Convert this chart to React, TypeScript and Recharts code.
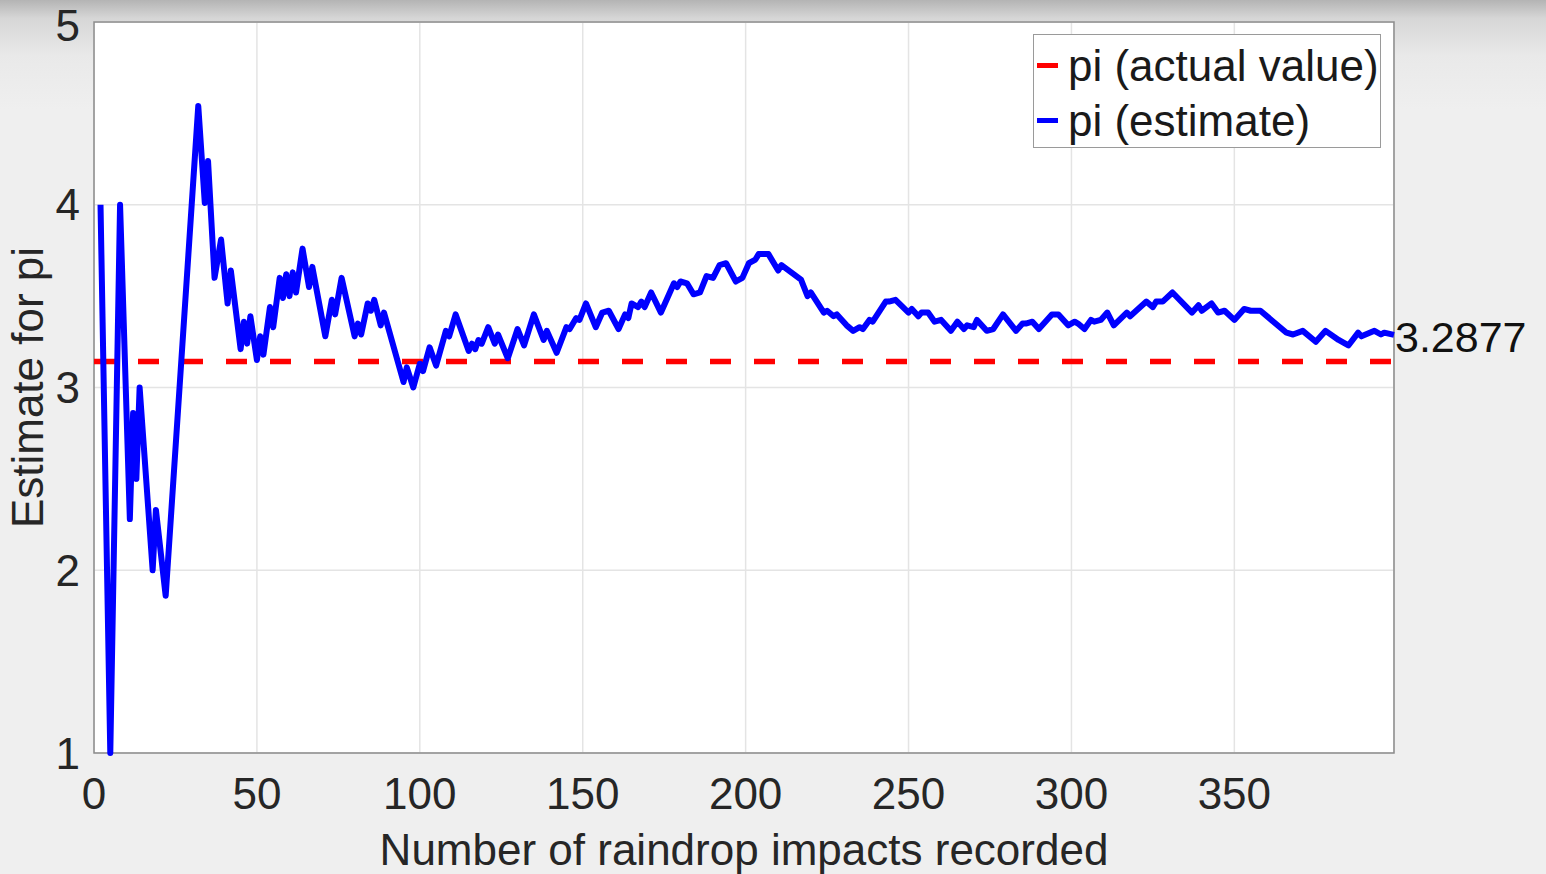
import {
  CartesianGrid,
  Legend,
  Line,
  LineChart,
  ReferenceArea,
  ReferenceDot,
  ReferenceLine,
  XAxis,
  YAxis,
} from 'recharts'

// number of impacts recorded (x) and the running estimate (y)
const impacts = [
  2, 5, 8, 11, 12, 13, 14, 18, 19, 22, 32, 34, 35, 37, 39, 41, 42, 45, 46, 47, 48, 50, 51, 52, 54, 55,
  57, 58, 59, 60, 61, 62, 64, 66, 67, 71, 73, 74, 76, 80, 81, 82, 84, 85, 86, 88, 89, 95, 96, 98, 100,
  101, 103, 105, 108, 109, 111, 115, 116, 117, 118, 119, 121, 123, 124, 127, 130, 132, 135, 138, 139,
  142, 145, 146, 148, 149, 151, 154, 156, 158, 161, 163, 164, 165, 167, 168, 169, 171, 174, 178, 179,
  180, 182, 184, 186, 188, 190, 192, 194, 197, 199, 201, 203, 204, 207, 210, 211, 214, 217, 219, 220,
  224, 225, 227, 228, 231, 233, 235, 236, 238, 239, 243, 244, 246, 250, 251, 253, 254, 256, 258, 260,
  263, 265, 267, 268, 270, 271, 274, 276, 279, 283, 285, 286, 288, 290, 294, 296, 299, 301, 302, 304,
  306, 307, 309, 311, 313, 317, 318, 323, 325, 326, 328, 331, 337, 339, 340, 343, 345, 347, 350, 353,
  355, 356, 358, 366, 368, 371, 375, 378, 382, 385, 388, 389, 393, 395, 396, 399,
]

const piEstimate = [
  4.0, 1.0, 4.0, 2.28, 2.86, 2.5, 3.0, 2.0, 2.33, 1.86, 4.54, 4.01, 4.24, 3.6, 3.81, 3.46, 3.64, 3.21,
  3.36, 3.24, 3.39, 3.15, 3.28, 3.18, 3.44, 3.33, 3.6, 3.49, 3.62, 3.5, 3.63, 3.52, 3.76, 3.55, 3.66,
  3.28, 3.48, 3.4, 3.6, 3.28, 3.35, 3.29, 3.46, 3.42, 3.48, 3.34, 3.41, 3.03, 3.11, 3.0, 3.13, 3.09,
  3.22, 3.12, 3.31, 3.28, 3.4, 3.2, 3.24, 3.21, 3.26, 3.24, 3.33, 3.24, 3.29, 3.16, 3.32, 3.23, 3.4,
  3.26, 3.31, 3.19, 3.33, 3.32, 3.38, 3.37, 3.46, 3.33, 3.41, 3.42, 3.32, 3.4, 3.38, 3.46, 3.44, 3.47,
  3.44, 3.52, 3.41, 3.57, 3.55, 3.58, 3.57, 3.51, 3.52, 3.61, 3.6, 3.67, 3.68, 3.58, 3.6, 3.68, 3.7,
  3.73, 3.73, 3.64, 3.67, 3.63, 3.59, 3.5, 3.52, 3.41, 3.42, 3.39, 3.4, 3.34, 3.31, 3.33, 3.32, 3.37,
  3.36, 3.47, 3.47, 3.48, 3.41, 3.43, 3.39, 3.41, 3.41, 3.36, 3.37, 3.31, 3.36, 3.32, 3.34, 3.33, 3.37,
  3.31, 3.32, 3.4, 3.31, 3.35, 3.35, 3.36, 3.32, 3.4, 3.4, 3.34, 3.36, 3.35, 3.32, 3.37, 3.36, 3.37,
  3.41, 3.34, 3.41, 3.39, 3.47, 3.44, 3.47, 3.47, 3.52, 3.41, 3.45, 3.42, 3.46, 3.41, 3.42, 3.37, 3.43,
  3.42, 3.42, 3.42, 3.3, 3.29, 3.31, 3.25, 3.31, 3.26, 3.23, 3.3, 3.28, 3.31, 3.29, 3.3, 3.2877,
]

const PI_ACTUAL = 3.14159
const X_MAX = 399
const xTicks = [0, 50, 100, 150, 200, 250, 300, 350]
const yTicks = [1, 2, 3, 4, 5]

const legendItems = [
  { name: 'pi (actual value)', color: '#ff0000' },
  { name: 'pi (estimate)', color: '#0000ff' },
]

const data = impacts.map((n, i) => ({ n, est: piEstimate[i] }))
const lastN = impacts[impacts.length - 1]
const lastEst = piEstimate[piEstimate.length - 1]

const TEXT = '#262626'
const FONT = 44

function YTitle(props: any) {
  const vb = props.viewBox ?? { x: 34, y: 22, width: 60, height: 731 }
  const cx = vb.x + 9
  const cy = vb.y + vb.height / 2
  return (
    <text
      x={cx}
      y={cy}
      transform={`rotate(-90 ${cx} ${cy})`}
      textAnchor="middle"
      fill={TEXT}
      fontSize={FONT}
    >
      Estimate for pi
    </text>
  )
}

function LegendBox() {
  return (
    <div
      style={{
        width: 348,
        height: 114,
        boxSizing: 'border-box',
        border: '1.5px solid #9a9a9a',
        background: '#ffffff',
        paddingTop: 3,
      }}
    >
      {legendItems.map((item) => (
        <div
          key={item.name}
          style={{ display: 'flex', alignItems: 'center', height: 55, lineHeight: '55px' }}
        >
          <span
            style={{
              display: 'inline-block',
              width: 21,
              height: 5,
              marginLeft: 3,
              marginRight: 10,
              background: item.color,
            }}
          />
          <span style={{ fontSize: FONT, color: '#1a1a1a', whiteSpace: 'nowrap' }}>{item.name}</span>
        </div>
      ))}
    </div>
  )
}

export default function App() {
  return (
    <div
      style={{
        position: 'absolute',
        left: 0,
        top: 0,
        width: 1546,
        height: 874,
        overflow: 'hidden',
        fontFamily: "'Liberation Sans', Arial, sans-serif",
        background:
          'linear-gradient(to bottom, #b4b4b4 0px, #d6d6d6 18px, #e9e9e9 55px, #efefef 110px, #efefef 100%)',
      }}
    >
      <LineChart
        width={1546}
        height={874}
        data={data}
        margin={{ top: 22, right: 152, bottom: 0, left: 34 }}
      >
        <CartesianGrid stroke="#e4e4e4" strokeWidth={1.5} fill="#ffffff" />
        <XAxis
          dataKey="n"
          type="number"
          domain={[0, X_MAX]}
          ticks={xTicks}
          height={121}
          axisLine={false}
          tickLine={false}
          tickSize={0}
          tickMargin={25}
          tick={{ fill: TEXT, fontSize: FONT }}
          label={{
            value: 'Number of raindrop impacts recorded',
            position: 'insideBottom',
            offset: 9,
            fill: TEXT,
            fontSize: FONT,
          }}
        />
        <YAxis
          type="number"
          domain={[1, 5]}
          ticks={yTicks}
          width={60}
          axisLine={false}
          tickLine={false}
          tickSize={0}
          tickMargin={14}
          tick={{ fill: TEXT, fontSize: FONT }}
          label={(props: any) => <YTitle {...props} />}
        />
        <ReferenceArea
          x1={0}
          x2={X_MAX}
          y1={1}
          y2={5}
          fill="none"
          fillOpacity={0}
          stroke="#8c8c8c"
          strokeWidth={1.5}
        />
        <ReferenceLine
          y={PI_ACTUAL}
          stroke="#ff0000"
          strokeWidth={5.5}
          strokeDasharray="21 23"
        />
        <Line
          type="linear"
          dataKey="est"
          stroke="#0000ff"
          strokeWidth={6}
          strokeLinejoin="round"
          dot={false}
          activeDot={false}
          isAnimationActive={false}
        />
        <ReferenceDot
          x={lastN}
          y={lastEst}
          r={1}
          shape={(p: any) => (
            <text x={p.cx + 1} y={p.cy + 17} fill="#111111" fontSize={43}>
              {lastEst.toFixed(4)}
            </text>
          )}
        />
        <Legend
          layout="vertical"
          align="center"
          verticalAlign="middle"
          wrapperStyle={{ left: 1033, top: 34, width: 348, height: 114, right: 'auto', bottom: 'auto' }}
          content={() => <LegendBox />}
        />
      </LineChart>
    </div>
  )
}
